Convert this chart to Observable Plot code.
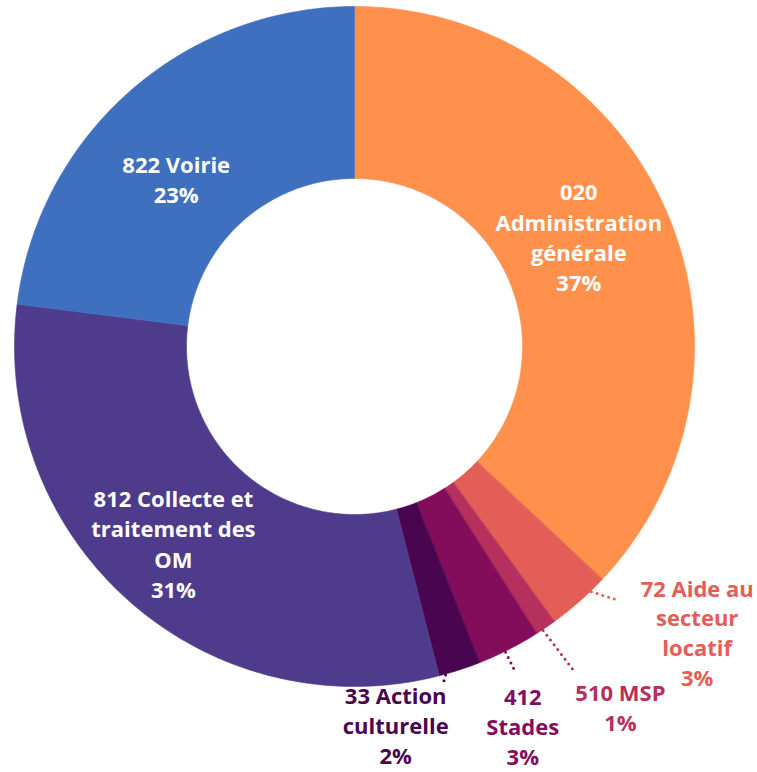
<!DOCTYPE html>
<html><head><meta charset="utf-8">
<script src="https://cdn.jsdelivr.net/npm/d3@7"></script>
<script src="https://cdn.jsdelivr.net/npm/@observablehq/plot@0.6"></script>
<style>body{margin:0;background:#fff} #chart svg{display:block}</style>
</head><body><div id="chart"></div>
<script>
// ---- data ----
const categories = ["020 Administration générale", "72 Aide au secteur locatif", "510 MSP", "412 Stades", "33 Action culturelle", "812 Collecte et traitement des OM", "822 Voirie"];
const labels = ["020\nAdministration\ngénérale", "72 Aide au\nsecteur\nlocatif", "510 MSP", "412\nStades", "33 Action\nculturelle", "812 Collecte et\ntraitement des\nOM", "822 Voirie"];
const shares = [37, 3, 1, 3, 2, 31, 23];
const colors = ["#FF914D", "#E35E56", "#B5305C", "#830D5A", "#4A0550", "#4E3B8C", "#3F6FBF"];

// ---- layout ----
const W = 757, H = 772, CX = 354, CY = 346, R_OUT = 340, R_IN = 168;
// inner labels: [radius, angle shift in degrees]
// outer labels: leader start/end angle shifts (deg), leader end radius, text offset from leader end
const layout = {
  "020 Administration générale": {inside: true, r: 250, shift: -2.8},
  "812 Collecte et traitement des OM": {inside: true, r: 267, shift: 1.3},
  "822 Voirie": {inside: true, r: 245, shift: -5.3},
  "72 Aide au secteur locatif": {inside: false, s0: -2.6, s1: -4.7, lead: 366, dx: 79, dy: -25},
  "510 MSP": {inside: false, s0: 0.6, s1: 0.1, lead: 394, dx: 45, dy: 7},
  "412 Stades": {inside: false, s0: 0.7, s1: 0.7, lead: 364, dx: 7, dy: 11},
  "33 Action culturelle": {inside: false, s0: 2.5, s1: 3.4, lead: 350, dx: -47, dy: -2}
};

const rows = categories.map((c, i) => ({cat: c, label: labels[i], share: shares[i], color: colors[i]}));
const pie = d3.pie().sort(null).value(d => d.share).startAngle(0).endAngle(2 * Math.PI)(rows);

const deg = Math.PI / 180;
const pt = (a, r) => [r * Math.sin(a), -r * Math.cos(a)];

// slice polygons
const poly = [];
pie.forEach(p => {
  const n = Math.max(4, Math.ceil((p.endAngle - p.startAngle) / (Math.PI / 360)));
  const pts = [];
  for (let k = 0; k <= n; k++) pts.push(pt(p.startAngle + (p.endAngle - p.startAngle) * k / n, R_OUT));
  for (let k = n; k >= 0; k--) pts.push(pt(p.startAngle + (p.endAngle - p.startAngle) * k / n, R_IN));
  pts.forEach(([x, y], j) => poly.push({cat: p.data.cat, color: p.data.color, x, y, j}));
});

const textRows = [], leaders = [];
pie.forEach(p => {
  const d = p.data, L = layout[d.cat];
  const mid = (p.startAngle + p.endAngle) / 2;
  const txt = d.label + "\n" + d.share + "%";
  if (L.inside) {
    const [x, y] = pt(mid + L.shift * deg, L.r);
    textRows.push({x, y, txt, fill: "white", anchor: "middle"});
  } else {
    const [x1, y1] = pt(mid + L.s0 * deg, R_OUT + 1);
    const [x2, y2] = pt(mid + L.s1 * deg, L.lead);
    leaders.push({x1, y1, x2, y2, color: d.color});
    textRows.push({x: x2 + L.dx, y: y2 + L.dy, txt, fill: d.color, anchor: "top"});
  }
});

const chart = Plot.plot({
  width: W, height: H, margin: 0,
  x: {domain: [-CX, W - CX], range: [0, W], axis: null},
  y: {domain: [-CY, H - CY], range: [0, H], axis: null},
  style: {fontFamily: "'Open Sans', sans-serif", background: "white"},
  marks: [
    Plot.line(poly, {x: "x", y: "y", z: "cat", fill: "color", stroke: "color", strokeWidth: 0.6, curve: "linear-closed"}),
    Plot.link(leaders, {x1: "x1", y1: "y1", x2: "x2", y2: "y2", stroke: "color", strokeWidth: 3, strokeDasharray: "0,6", strokeLinecap: "round"}),
    Plot.text(textRows.filter(d => d.anchor === "middle"), {x: "x", y: "y", text: "txt", fill: "fill", fontSize: 22, fontWeight: 700, lineHeight: 1.38, lineAnchor: "middle", textAnchor: "middle"}),
    Plot.text(textRows.filter(d => d.anchor === "top"), {x: "x", y: "y", text: "txt", fill: "fill", fontSize: 22, fontWeight: 700, lineHeight: 1.36, lineAnchor: "top", textAnchor: "middle"})
  ]
});
document.getElementById("chart").appendChild(chart);
</script>
</body></html>
